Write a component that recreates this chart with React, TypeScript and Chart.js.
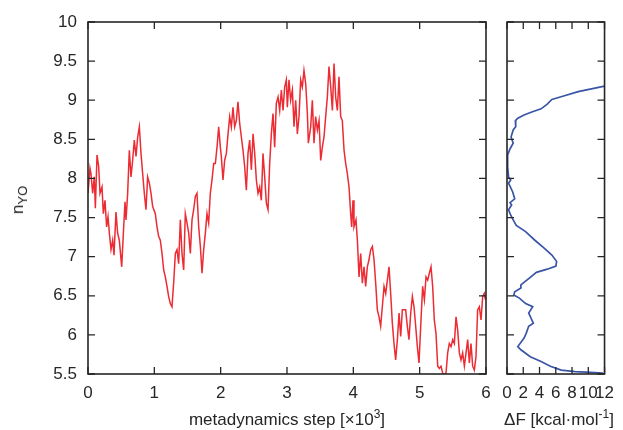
import React, { useEffect, useRef } from "react";
import { Chart, registerables } from "chart.js";

Chart.register(...registerables);

// metadynamics step (x10^3)
const stepsK = [
  0, 0.03, 0.045, 0.07, 0.095, 0.111, 0.136, 0.161, 0.181, 0.211, 0.231, 0.256, 0.281, 0.302, 0.322, 0.347, 0.372, 0.392, 0.422, 0.447,
  0.472, 0.508, 0.533, 0.558, 0.573, 0.598, 0.623, 0.648, 0.673, 0.698, 0.724, 0.749, 0.774, 0.799, 0.824, 0.849, 0.874, 0.899, 0.925, 0.95, 0.975,
  1.015, 1.04, 1.065, 1.09, 1.116, 1.141, 1.166, 1.191, 1.216, 1.241, 1.266, 1.291, 1.317, 1.342, 1.367, 1.392, 1.417, 1.442, 1.467, 1.493,
  1.518, 1.543, 1.568, 1.593, 1.618, 1.643, 1.669, 1.694, 1.719, 1.744, 1.769, 1.794, 1.819, 1.844, 1.869, 1.895, 1.92, 1.945, 1.97, 1.995,
  2.01, 2.035, 2.06, 2.086, 2.111, 2.136, 2.161, 2.186, 2.211, 2.236, 2.261, 2.287, 2.312, 2.337, 2.362, 2.387, 2.412, 2.437, 2.463, 2.488,
  2.513, 2.538, 2.563, 2.588, 2.613, 2.638, 2.664, 2.689, 2.714, 2.739, 2.764, 2.789, 2.814, 2.839, 2.865, 2.89, 2.915, 2.94, 2.965, 2.99,
  3.005, 3.03, 3.055, 3.081, 3.106, 3.131, 3.156, 3.181, 3.206, 3.231, 3.256, 3.282, 3.307, 3.322, 3.357, 3.382, 3.407, 3.432, 3.458, 3.483,
  3.508, 3.533, 3.558, 3.583, 3.608, 3.633, 3.659, 3.684, 3.709, 3.734, 3.759, 3.784, 3.809, 3.834, 3.86, 3.885, 3.91, 3.935, 3.96, 3.975, 3.995,
  4.01, 4.04, 4.061, 4.086, 4.111, 4.136, 4.161, 4.186, 4.211, 4.236, 4.262, 4.287, 4.312, 4.337, 4.362, 4.387, 4.412, 4.437, 4.463, 4.488,
  4.513, 4.538, 4.563, 4.588, 4.613, 4.638, 4.664, 4.689, 4.714, 4.739, 4.764, 4.789, 4.814, 4.839, 4.865, 4.89, 4.915, 4.94, 4.965, 4.99,
  5.02, 5.045, 5.071, 5.096, 5.121, 5.146, 5.171, 5.196, 5.221, 5.246, 5.272, 5.297, 5.322, 5.347, 5.372, 5.397, 5.422, 5.447, 5.473, 5.498,
  5.523, 5.548, 5.573, 5.598, 5.623, 5.648, 5.674, 5.699, 5.724, 5.749, 5.774, 5.799, 5.824, 5.849, 5.874, 5.899, 5.925, 5.95, 5.975, 5.99,
];

// n_YO along the trajectory
const nYO = [
  7.81, 8.13, 8.06, 7.81, 8.02, 7.62, 8.3, 8.15, 7.81, 7.89, 7.55, 7.72, 7.38, 7.51, 7.3, 7.09, 7.21, 7.02, 7.57, 7.3,
  7.21, 6.87, 7.3, 7.7, 7.47, 7.81, 8.36, 8.02, 8.23, 8.49, 8.28, 8.53, 8.66, 8.32, 8.06, 7.81, 7.6, 8.02, 7.94, 7.81, 7.64,
  7.55, 7.38, 7.26, 7.21, 7.04, 6.83, 6.74, 6.62, 6.49, 6.4, 6.36, 6.66, 7.04, 7.09, 6.91, 7.47, 7.04, 6.83, 7.55, 7.43,
  7.3, 7.04, 7.47, 7.6, 7.77, 7.81, 7.38, 7.13, 6.79, 7.09, 7.3, 7.55, 7.43, 7.81, 7.98, 8.19, 8.19, 8.4, 8.66, 8.4,
  8.28, 7.98, 8.23, 8.32, 8.57, 8.79, 8.66, 8.91, 8.66, 8.74, 8.98, 8.7, 8.53, 8.36, 8.15, 7.85, 8.32, 8.49, 8.11, 8.57,
  8.32, 7.98, 7.81, 7.89, 7.72, 8.32, 8.02, 7.68, 7.6, 8.19, 8.57, 8.83, 8.4, 8.96, 9.04, 8.87, 9.13, 8.87, 9.17, 9.26,
  8.91, 9.26, 9.0, 9.13, 8.66, 9.0, 8.57, 8.79, 9.26, 9.17, 9.38, 9.21, 8.83, 8.45, 8.66, 9.0, 8.45, 8.79, 8.62, 8.74,
  8.23, 8.4, 8.53, 8.79, 9.04, 9.43, 9.17, 8.87, 9.47, 9.04, 8.87, 9.3, 8.79, 8.74, 8.36, 8.19, 8.06, 7.89, 7.55, 7.38, 7.72,
  7.38, 7.47, 7.21, 6.74, 7.04, 6.66, 6.87, 6.62, 6.87, 6.96, 7.09, 7.13, 6.96, 6.66, 6.32, 6.23, 6.11, 6.36, 6.62, 6.53,
  6.7, 6.87, 6.53, 6.15, 5.89, 5.68, 5.94, 6.28, 5.98, 6.32, 6.32, 6.32, 6.11, 5.94, 6.28, 6.49, 6.36, 6.11, 5.85, 5.64,
  6.19, 6.62, 6.45, 6.74, 6.7, 6.79, 6.87, 6.62, 6.19, 6.02, 5.6, 5.57, 5.6, 5.51, 5.49, 5.51, 5.77, 5.89, 5.85, 5.94,
  5.89, 6.23, 6.06, 5.77, 5.68, 5.77, 5.6, 5.77, 5.94, 5.64, 5.89, 5.6, 5.55, 5.72, 6.32, 6.36, 6.19, 6.49, 6.53, 6.45,
];

// free-energy profile: ΔF (kcal/mol) and n_YO
const deltaF = [
  12, 8.76, 6.86, 5.52, 4.95, 4.19, 3.05, 2.1, 1.33, 1.03, 1.07, 0.76, 0.5, 0.76, 0.38, 0.08, 0.08, 0.19, 0.46, 0.19,
  0.69, 0.95, 0.38, 0.57, 0.19, 0.46, 0.76, 1.14, 2.29, 3.43, 4.57, 5.52, 6.1, 6.02, 4.95, 3.62, 2.67, 1.71, 1.71, 0.95,
  0.84, 1.52, 2.29, 3.16, 2.67, 3.24, 2.67, 2.36, 2.1, 1.33, 1.71, 2.86, 4.19, 5.33, 6.67, 8.38, 10.29, 11.81,
];
const deltaFn = [
  9.18, 9.11, 9.05, 9.01, 8.95, 8.89, 8.85, 8.81, 8.77, 8.74, 8.66, 8.62, 8.53, 8.45, 8.38, 8.3, 8.15, 8.02, 7.98, 7.94,
  7.83, 7.74, 7.69, 7.66, 7.6, 7.53, 7.47, 7.4, 7.32, 7.21, 7.11, 7.02, 6.94, 6.88, 6.84, 6.8, 6.72, 6.64, 6.6, 6.55,
  6.51, 6.47, 6.4, 6.36, 6.28, 6.15, 6.11, 6.02, 5.96, 5.85, 5.81, 5.72, 5.66, 5.6, 5.55, 5.53, 5.52, 5.51,
];

const stepTicks = [0, 1, 2, 3, 4, 5, 6];
const nTicks = [5.5, 6, 6.5, 7, 7.5, 8, 8.5, 9, 9.5, 10];
const dFTicks = [0, 2, 4, 6, 8, 10, 12];

const FONT = "'Liberation Sans', Arial, Helvetica, sans-serif";
const INK = "#262626";
const W = 623;
const H = 430;

const frameTicks = {
  id: "frameTicks",
  afterDraw(chart: any) {
    const { ctx, chartArea: a, scales } = chart;
    const xs = scales.x;
    const ys = scales.y;
    ctx.save();
    ctx.strokeStyle = INK;
    ctx.lineWidth = 1.3;
    ctx.beginPath();
    for (const t of xs.ticks) {
      const px = xs.getPixelForValue(t.value);
      ctx.moveTo(px, a.bottom);
      ctx.lineTo(px, a.bottom - 7);
      ctx.moveTo(px, a.top);
      ctx.lineTo(px, a.top + 7);
    }
    for (const t of ys.ticks) {
      const py = ys.getPixelForValue(t.value);
      ctx.moveTo(a.left, py);
      ctx.lineTo(a.left + 7, py);
      ctx.moveTo(a.right, py);
      ctx.lineTo(a.right - 7, py);
    }
    ctx.stroke();
    ctx.lineWidth = 1.6;
    ctx.strokeRect(a.left, a.top, a.right - a.left, a.bottom - a.top);
    ctx.restore();
  },
};

const tickFont = { family: FONT, size: 17 };
const fmt = (v: any) => String(Number(v));

const titleStyle: React.CSSProperties = {
  position: "absolute",
  top: 410,
  transform: "translateX(-50%)",
  fontFamily: FONT,
  fontSize: 17,
  lineHeight: "19px",
  color: INK,
  whiteSpace: "nowrap",
};
const supStyle: React.CSSProperties = { fontSize: 12, position: "relative", top: -7 };

export default function App() {
  const mainRef = useRef<HTMLCanvasElement | null>(null);
  const sideRef = useRef<HTMLCanvasElement | null>(null);

  useEffect(() => {
    const main = new Chart(mainRef.current as HTMLCanvasElement, {
      type: "scatter",
      data: {
        datasets: [
          {
            data: stepsK.map((s, i) => ({ x: s, y: nYO[i] })),
            showLine: true,
            borderColor: "#ec2b33",
            borderWidth: 1.5,
            pointRadius: 0,
            tension: 0,
          },
        ],
      },
      options: {
        animation: false,
        responsive: false,
        devicePixelRatio: 1,
        layout: { padding: { left: 0, right: W - 486, top: 22, bottom: 0 } },
        plugins: { legend: { display: false }, tooltip: { enabled: false } },
        scales: {
          x: {
            type: "linear",
            min: 0,
            max: 6,
            afterBuildTicks: (s: any) => {
              s.ticks = stepTicks.map((v) => ({ value: v }));
            },
            afterFit: (s: any) => {
              s.height = 56;
            },
            ticks: { autoSkip: false, maxRotation: 0, minRotation: 0, padding: 9, font: tickFont, color: INK, callback: fmt },
            grid: { display: false, drawTicks: false },
            border: { display: false },
          },
          y: {
            type: "linear",
            min: 5.5,
            max: 10,
            afterBuildTicks: (s: any) => {
              s.ticks = nTicks.map((v) => ({ value: v }));
            },
            afterFit: (s: any) => {
              s.width = 88;
            },
            ticks: { autoSkip: false, padding: 11, font: tickFont, color: INK, callback: fmt },
            grid: { display: false, drawTicks: false },
            border: { display: false },
          },
        },
      } as any,
      plugins: [frameTicks],
    });

    const side = new Chart(sideRef.current as HTMLCanvasElement, {
      type: "scatter",
      data: {
        datasets: [
          {
            data: deltaF.map((f, i) => ({ x: f, y: deltaFn[i] })),
            showLine: true,
            borderColor: "#3a55a6",
            borderWidth: 1.7,
            pointRadius: 0,
            tension: 0,
          },
        ],
      },
      options: {
        animation: false,
        responsive: false,
        devicePixelRatio: 1,
        layout: { padding: { left: 507, right: W - 612, top: 22, bottom: 0 } },
        plugins: { legend: { display: false }, tooltip: { enabled: false } },
        scales: {
          x: {
            type: "linear",
            min: 0,
            max: 12,
            afterBuildTicks: (s: any) => {
              s.ticks = dFTicks.map((v) => ({ value: v }));
            },
            afterFit: (s: any) => {
              s.height = 56;
            },
            ticks: { autoSkip: false, maxRotation: 0, minRotation: 0, padding: 9, font: tickFont, color: INK, callback: fmt },
            grid: { display: false, drawTicks: false },
            border: { display: false },
          },
          y: {
            type: "linear",
            min: 5.5,
            max: 10,
            afterBuildTicks: (s: any) => {
              s.ticks = nTicks.map((v) => ({ value: v }));
            },
            afterFit: (s: any) => {
              s.width = 0;
            },
            ticks: { display: false },
            grid: { display: false, drawTicks: false },
            border: { display: false },
          },
        },
      } as any,
      plugins: [frameTicks],
    });

    return () => {
      main.destroy();
      side.destroy();
    };
  }, []);

  return (
    <div style={{ position: "absolute", left: 0, top: 0, width: W, height: H, background: "#fff" }}>
      <canvas ref={mainRef} width={W} height={H} style={{ position: "absolute", left: 0, top: 0, width: W, height: H }} />
      <canvas ref={sideRef} width={W} height={H} style={{ position: "absolute", left: 0, top: 0, width: W, height: H }} />
      <div
        style={{
          position: "absolute",
          left: 18,
          top: 200,
          transform: "translate(-50%, -50%) rotate(-90deg)",
          fontFamily: FONT,
          fontSize: 17,
          lineHeight: "19px",
          color: INK,
          whiteSpace: "nowrap",
        }}
      >
        n<span style={{ fontSize: 13, position: "relative", top: 4 }}>YO</span>
      </div>
      <div style={{ ...titleStyle, left: 287 }}>
        metadynamics step [×10<span style={supStyle}>3</span>]
      </div>
      <div style={{ ...titleStyle, left: 559 }}>
        ΔF [kcal·mol<span style={supStyle}>-1</span>]
      </div>
    </div>
  );
}
